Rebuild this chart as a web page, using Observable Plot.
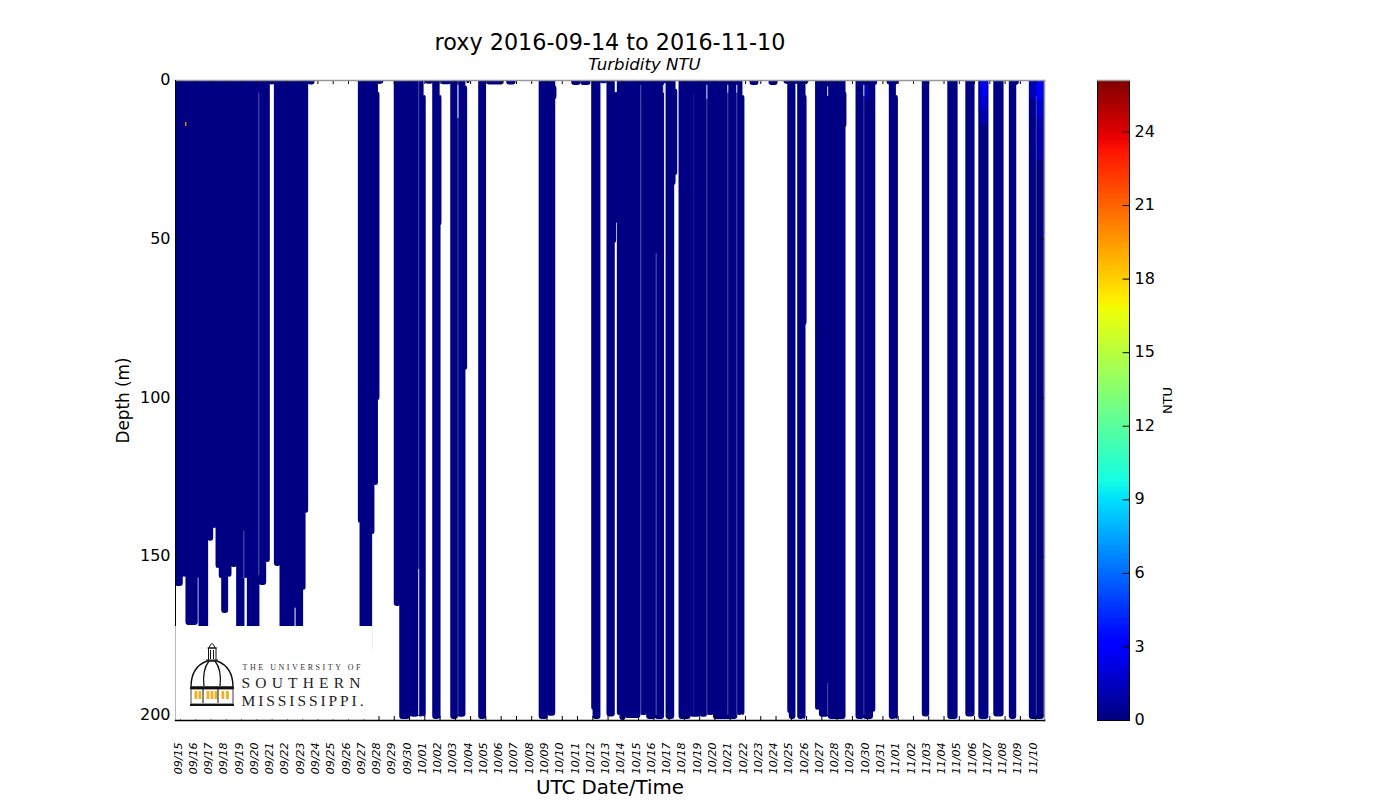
<!DOCTYPE html>
<html>
<head>
<meta charset="utf-8">
<style>
html,body{margin:0;padding:0;background:#fff;width:1400px;height:800px;overflow:hidden}
#wrap{position:relative;width:1400px;height:800px}
#wrap svg{position:absolute;left:0;top:0;background:transparent;font-family:"DejaVu Sans",sans-serif}
</style>
<script src="https://cdn.jsdelivr.net/npm/d3@7"></script>
<script src="https://cdn.jsdelivr.net/npm/@observablehq/plot@0.6"></script>
</head>
<body>
<div id="wrap"></div>
<script>
// Profile blocks: days since 2016-09-15 00:00 UTC, depth range in metres
const segStart = [
 -0.33,0.15,0.39,1.13,1.24,1.81,2.14,2.36,2.57,2.73,3.12,3.34,3.71,4.19,4.41,5.17,5.61,
 5.85,
 6.18,6.55,7.47,7.60,8.03,8.19, 8.36,
 11.68,11.79,12.55,12.70,12.93, 12.90,
 14.03,14.39,15.02,15.11,15.60,15.92, 16.06,
 16.55,16.97,17.03, 17.09,
 17.73,18.17,18.66, 18.77,
 19.56, 20.08,21.39,
 23.52,24.05,24.50, 25.65,26.24,
 26.96,27.05, 27.50,
 27.96,28.44,28.53,
 28.64,28.81,29.14,30.12,30.56,31.11, 31.60,
 31.83,32.33,32.42,
 32.68,33.40,34.05,34.49,34.93,36.46,36.80,
 37.33,38.57,39.55,
 39.80,39.90, 40.45,40.82,40.93,
 41.62,41.87,42.46,43.55,
 44.27,44.75,45.35, 45.45,
 46.30,46.45,46.85,
 48.61, 50.28, 51.46, 52.31, 53.29, 54.31, 54.60, 55.62
];
const segEnd = [
 0.15,0.39,1.13,1.24,1.81,2.14,2.36,2.57,2.73,3.12,3.34,3.71,4.19,4.41,5.17,5.61,5.85,
 6.18,
 6.55,7.47,7.60,8.03,8.19,8.36, 8.78,
 11.79,12.55,12.70,12.93,13.03, 13.29,
 14.39,15.02,15.11,15.60,15.92,16.06, 16.55,
 16.97,17.03,17.09, 17.73,
 18.17,18.66,18.77, 18.94,
 20.01, 21.17,21.94,
 24.05,24.54,24.62, 26.19,26.85,
 27.05,27.50, 27.96,
 28.44,28.53,28.66,
 28.81,29.14,30.12,30.56,31.11,31.67, 31.90,
 32.33,32.42,32.53,
 33.40,34.05,34.49,34.93,36.46,36.80,36.93,
 37.85,39.10,41.12,
 39.90,40.27, 40.82,40.93,41.00,
 41.87,42.46,43.55,43.61,
 44.75,45.35,45.50, 45.62,
 47.00,46.85,46.98,
 49.03, 50.89, 52.00, 52.91, 53.90, 54.73, 54.90, 56.54
];
const segTop = [
 0,0,0,0,0,0,0,0,0,0,0,0,0,0,0,0,0,
 0,
 0,0,0,0,0,0, 0,
 0,0,0,0,5, 0,
 0,0,0,0,0,6, 0,
 0,6,6, 0,
 0,0,3, 0,
 0, 0,0,
 0,0,3, 0,0,
 0,0, 0,
 0,5,5,
 0,0,0,0,0,0, 0,
 0,0,4,
 0,0,0,0,0,0,6,
 0,0,0,
 0,0, 0,0,6,
 0,0,0,5,
 0,0,0, 0,
 0,0,6,
 0, 0, 0, 0, 0, 0, 0, 0
];
const segBottom = [
 159.4,156.5,171.7,156.9,180,145.1,141.1,153.7,156.9,167.9,156.5,153.4,180,156.9,180,159.1,151.8,
 1.4,
 153.1,180,166.3,180,160.6,136.3, 1.4,
 139.5,180,143,127.6,100.8, 1.2,
 165.7,201.3,200.6,200.6,200.5,200.5, 1.2,
 201.3,201.3,45.7, 1.3,
 201.3,200.6,91.3, 1.0,
 201.3, 1.4,1.4,
 201.3,200.3,6, 1.6,1.6,
 198.4,201.3, 1.0,
 200.5,51.3,45,
 200,201.6,201,200,201.3,201.3, 1.0,
 201.3,33,29.9,
 201.3,200.6,200.6,200,201.3,200,200,
 1.6,1.6,1.2,
 199.4,201.3, 201.3,201.3,77,
 198.4,200.6,201.3,14.8,
 201.3,201.3,199, 1.5,
 1.4,201.3,201.3,
 200.5, 201.3, 200.5, 201.3, 200.5, 201.3, 1.5, 201.3
];
// Patches of higher turbidity near the surface
const hiStart = [52.31,52.46,52.46,52.46,55.62,56.04,56.04,56.04,44.90,0.33];
const hiEnd   = [52.46,52.87,52.87,52.87,56.00,56.52,56.52,56.52,45.05,0.42];
const hiTop   = [0,0,5,8.5,0,0,6,12,2,13.2];
const hiBottom= [10,5,8.5,14,6,6,12,25,6,14.5];
const hiValue = [1.0,2.9,2.0,1.2,1.3,2.8,1.8,1.0,1.6,20];
// Thin pale gaps between profiles
const gapDay    = [5.13,4.15,15.60,15.60,18.17,18.17,30.14,31.15,34.47,34.47,35.84,35.84,36.43,36.43,33.61,42.38,42.38,44.75,44.75,56.04,31.62];
const gapTop    = [4,142,0,154,0,1.5,1.5,54.5,1.5,6,1.5,4,1.5,4,4,2,190,1.5,5,5,1.5];
const gapBottom = [156,157,154,200,200,12,200,200,6,200,4,200,4,200,200,5,200,5,200,200,4];
const gapAlpha  = [0.35,0.35,0.3,0.9,0.25,0.9,0.35,0.35,0.9,0.3,0.9,0.3,0.9,0.3,0.1,0.9,0.3,0.9,0.25,0.25,0.9];

const baseValue = 0.1;
const yTicks = [0,50,100,150,200];
const barTicks = [0,3,6,9,12,15,18,21,24];
const firstDay = "2016-09-15", tickCount = 57;
const titleText = "roxy 2016-09-14 to 2016-11-10";
const subtitleText = "Turbidity NTU";
const xLabelText = "UTC Date/Time";
const yLabelText = "Depth (m)";
const barLabelText = "NTU";

const t0 = Date.parse(firstDay + "T00:00:00Z");
const toDate = d => new Date(t0 + d * 864e5);
const blocks = segStart.map((s,i)=>({x1:toDate(s),x2:toDate(segEnd[i]),y1:segTop[i],y2:segBottom[i],v:baseValue}));
const patches = hiStart.map((s,i)=>({x1:toDate(s),x2:toDate(hiEnd[i]),y1:hiTop[i],y2:hiBottom[i],v:hiValue[i]}));
const gaps = gapDay.map((d,i)=>({x:toDate(d),y1:gapTop[i],y2:gapBottom[i],a:gapAlpha[i]}));
const dayTicks = d3.range(tickCount).map(toDate);
const fmt = d3.utcFormat("%m/%d");

const vMax = 26.1;
const colorOpts = {
  type:"linear",
  domain:[0,.11,.125,.34,.35,.375,.64,.65,.66,.89,.91,1].map(f=>f*vMax),
  range:["#00007f","#0000ff","#0000ff","#00dbff","#00e5f7","#14ffe2","#eeff08","#f7f500","#ffec00","#ff1300","#e80000","#7f0000"],
  interpolate:"rgb"
};
const xDomain = [toDate(-0.327),toDate(56.58)];
const yMax = 201.6;
const tickLen = 1.26;

function logoMark(){
  const g = d3.create("svg:g").attr("text-anchor","start");
  g.append("rect").attr("x",174.5).attr("y",626).attr("width",198).attr("height",93.5).attr("fill","#fff");
  g.append("line").attr("x1",175.5).attr("x2",175.5).attr("y1",626).attr("y2",720).attr("stroke","#bbb");
  const k="#111";
  // cupola
  g.append("path").attr("d","M208.5 660V648H216V660M207.5 648H217M209 648Q212 639 215 648M210.5 650V659M213.5 650V659M206 660H218").attr("fill","none").attr("stroke",k).attr("stroke-width",1);
  // dome
  g.append("path").attr("d","M191 687Q191 667 207 661H217Q233 667 233 687Z").attr("fill","#fff").attr("stroke",k).attr("stroke-width",1.4);
  g.append("path").attr("d","M204 686Q202 670 209 661M220 686Q222 670 215 661").attr("fill","none").attr("stroke",k).attr("stroke-width",1.3);
  g.append("path").attr("d","M190 688H234").attr("stroke",k).attr("stroke-width",2);
  // drum with lit windows
  g.append("rect").attr("x",191).attr("y",689).attr("width",42).attr("height",15).attr("fill","#fff").attr("stroke",k).attr("stroke-width",.8);
  [194.5,198.5,206.5,210.5,214.5,221.5,226].forEach(x=>{
    g.append("rect").attr("x",x).attr("y",691).attr("width",2.8).attr("height",8).attr("fill","#f2b01e");
  });
  [203,218].forEach(x=>g.append("line").attr("x1",x).attr("x2",x).attr("y1",689).attr("y2",703).attr("stroke",k));
  g.append("path").attr("d","M190 705H234").attr("stroke",k).attr("stroke-width",1.8);
  const serif="'Liberation Serif',serif";
  const txt=(s,x,y,fs,len,col)=>g.append("text").attr("x",x).attr("y",y).attr("font-family",serif).attr("font-size",fs)
     .attr("fill",col).attr("textLength",len).attr("lengthAdjust","spacing").text(s);
  txt("THE UNIVERSITY OF",242.5,670,8,118,"#333");
  txt("SOUTHERN",241.5,688,15.5,119,"#222");
  txt("MISSISSIPPI.",241.5,705.5,15.5,122,"#222");
  return g.node();
}

const chart = Plot.plot({
  width:1400,height:800,
  marginLeft:175,marginRight:356,marginTop:80,marginBottom:80,
  style:{fontFamily:"DejaVu Sans",color:"#000",background:"transparent"},
  x:{type:"utc",domain:xDomain,axis:null},
  y:{domain:[0,yMax],reverse:true,axis:null},
  color:colorOpts,
  marks:[
    Plot.rect(blocks,{x1:"x1",x2:"x2",y1:"y1",y2:"y2",fill:"v",rx:3,insetTop:-4,insetLeft:-0.5,insetRight:-0.5,clip:true}),
    Plot.rect(patches,{x1:"x1",x2:"x2",y1:"y1",y2:"y2",fill:"v",clip:true}),
    Plot.ruleX(gaps,{x:"x",y1:"y1",y2:"y2",stroke:"#fff",strokeOpacity:"a",strokeWidth:1}),
    Plot.ruleX(dayTicks,{x:d=>d,y1:0,y2:tickLen,stroke:"#000"}),
    Plot.ruleX(dayTicks,{x:d=>d,y1:yMax-tickLen,y2:yMax,stroke:"#000"}),
    Plot.ruleY(yTicks,{y:d=>d,x1:xDomain[0],x2:toDate(-0.327+0.26),stroke:"#000"}),
    Plot.ruleY(yTicks,{y:d=>d,x1:toDate(56.32),x2:xDomain[1],stroke:"#000"}),
    Plot.frame({anchor:"top",stroke:"#999",strokeWidth:1.5}),
    Plot.frame({anchor:"right",stroke:"#999",strokeWidth:1.5}),
    Plot.frame({anchor:"left",stroke:"#000"}),
    Plot.axisY(yTicks,{anchor:"left",tickSize:0,tickPadding:5,fontSize:16,label:null,tickFormat:d=>d,dy:-0.5}),
    Plot.axisX(dayTicks,{anchor:"bottom",tickSize:0,tickPadding:22,tickRotate:-90,fontSize:11,fontStyle:"italic",tickFormat:fmt,label:null,dx:-2.5}),
    logoMark,
    Plot.frame({anchor:"bottom",stroke:"#000",strokeWidth:1.5}),
    Plot.text([titleText],{frameAnchor:"top",dy:-38,fontSize:22.3,lineAnchor:"middle",textAnchor:"middle"}),
    Plot.text([subtitleText],{frameAnchor:"top",dx:34.5,dy:-16,fontSize:16.6,fontStyle:"italic",lineAnchor:"middle",textAnchor:"middle"}),
    Plot.text([xLabelText],{frameAnchor:"bottom",dy:67,fontSize:19.8,lineAnchor:"middle",textAnchor:"middle"}),
    Plot.text([yLabelText],{frameAnchor:"left",dx:-52,fontSize:16.8,rotate:-90,lineAnchor:"middle",textAnchor:"middle"})
  ]
});

const barSteps = d3.range(0,vMax,0.1);
const bar = Plot.plot({
  width:200,height:800,
  marginLeft:37,marginRight:131,marginTop:80,marginBottom:80,
  style:{fontFamily:"DejaVu Sans",color:"#000",background:"transparent"},
  x:{domain:[0,1],axis:null},
  y:{domain:[0,vMax],axis:null},
  color:colorOpts,
  marks:[
    Plot.rect(barSteps,{y1:d=>d,y2:d=>Math.min(d+0.12,vMax),fill:d=>d+0.05,shapeRendering:"crispEdges"}),
    Plot.ruleY(barTicks,{y:d=>d,x1:0.8,x2:1,stroke:"#000"}),
    Plot.frame({stroke:"#000"}),
    Plot.frame({anchor:"top",stroke:"#999",strokeWidth:1.5}),
    Plot.axisY(barTicks,{anchor:"right",tickSize:0,tickPadding:5,fontSize:16,label:null,tickFormat:d=>d,dy:-0.5}),
    Plot.text([barLabelText],{frameAnchor:"right",dx:38,fontSize:13,rotate:-90,lineAnchor:"middle",textAnchor:"middle"})
  ]
});
bar.style.left="1060px";
const wrap=document.getElementById("wrap");
wrap.append(chart,bar);
</script>
</body>
</html>
